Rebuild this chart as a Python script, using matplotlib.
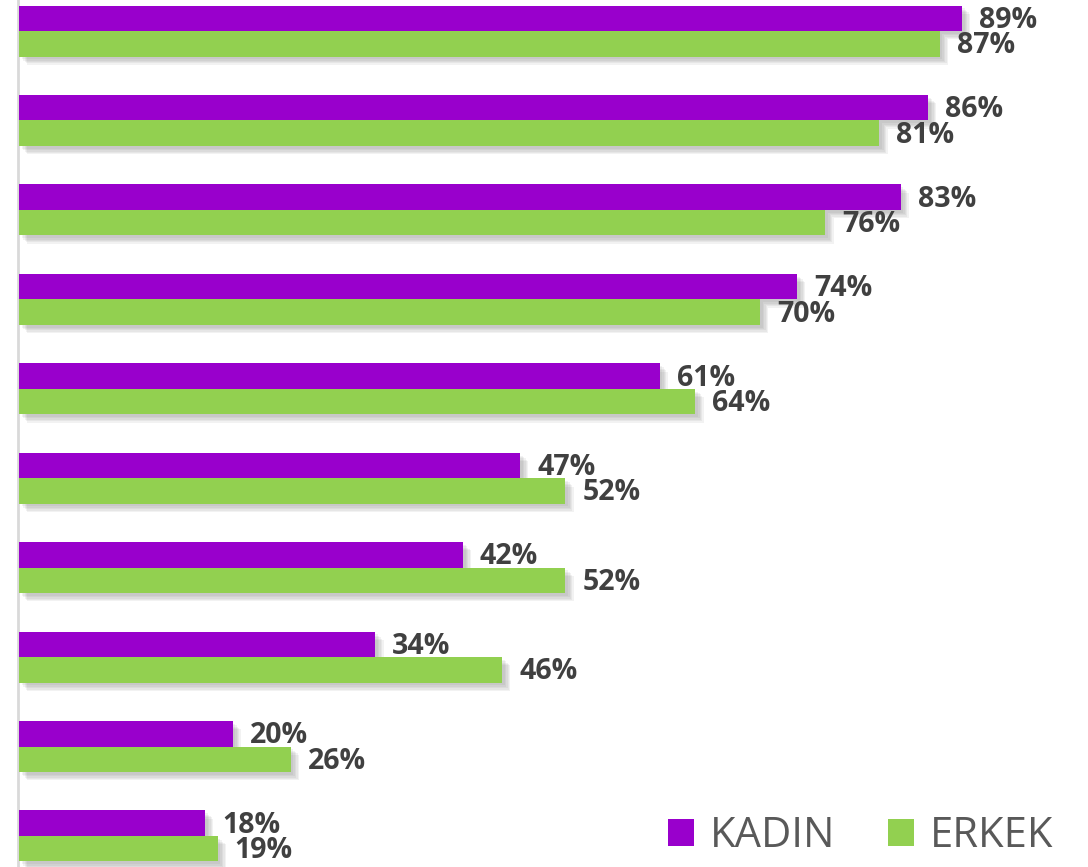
import matplotlib.pyplot as plt
import matplotlib.patheffects as pe
import numpy as np

# okunan degerler (etiketler yuvarlanmis)
kadin = [89.2, 86.0, 83.4, 73.6, 60.6, 47.4, 42.0, 33.7, 20.2, 17.6]
erkek = [87.1, 81.4, 76.3, 70.1, 64.0, 51.7, 51.7, 45.7, 25.7, 18.8]
series_names = ['KADIN', 'ERKEK']
colors = ['#9900CC', '#92D050']

W, H = 1088, 867
fig = plt.figure(figsize=(W / 100, H / 100), dpi=100)
ax = fig.add_axes([19 / W, 0, 1057 / W, 1])

y = np.arange(len(kadin))
h = 0.285
# yumusak golge icin birkac katman
shadow = [pe.SimplePatchShadow(offset=(d, -d), shadow_rgbFace='#707070', alpha=0.09)
          for d in (2, 3, 4, 5, 6)] + [pe.Normal()]

b1 = ax.barh(y - h / 2, kadin, height=h, color=colors[0], label=series_names[0],
             path_effects=shadow, zorder=3)
b2 = ax.barh(y + h / 2, erkek, height=h, color=colors[1], label=series_names[1],
             path_effects=shadow, zorder=3)

for bars, vals in [(b1, kadin), (b2, erkek)]:
    for rect, v in zip(bars, vals):
        ax.annotate(f'{round(v)}%', (v, rect.get_y() + rect.get_height() / 2),
                    xytext=(17, -2), textcoords='offset pixels', ha='left', va='center',
                    fontsize=20.5, fontweight='bold', color='#404040',
                    family=['Open Sans', 'DejaVu Sans'], zorder=5)

ax.set_xlim(0, 100)
ax.set_ylim(len(kadin) - 1 + 0.347, -0.347)
ax.axis('off')
ax.axvline(-0.1, color='#d9d9d9', lw=2, zorder=1, clip_on=False)

leg = ax.legend(loc='lower right', bbox_to_anchor=(0.979, 0.0115), ncol=2, frameon=False,
                borderpad=0, borderaxespad=0,
                handlelength=0.62, handleheight=0.62, handletextpad=0.4, columnspacing=1.25,
                prop={'family': ['Open Sans', 'DejaVu Sans'], 'size': 30})
for t in leg.get_texts():
    t.set_color('#595959')
for hnd in leg.legend_handles:
    hnd.set_path_effects([])

fig.savefig('out.png', dpi=100)
